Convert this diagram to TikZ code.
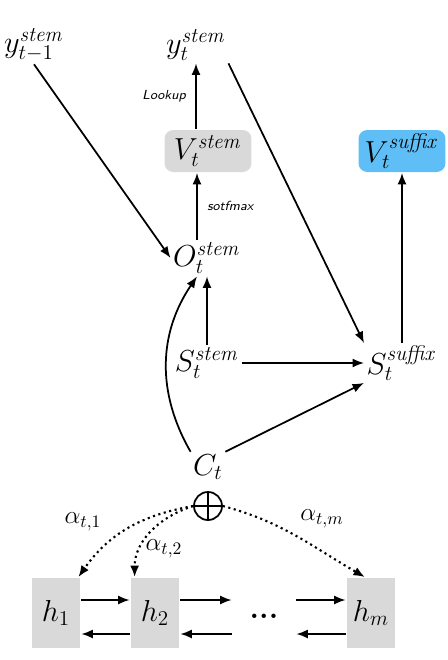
\documentclass[tikz,border=0pt]{standalone}
\usetikzlibrary{arrows.meta,positioning}
\definecolor{sufblue}{RGB}{95,190,245}

\begin{document}
\begin{tikzpicture}[x=0.02cm,y=0.02cm,>={Latex[length=2.3mm,width=1.8mm]},line width=1pt,
 var/.style={inner sep=1pt,font=\LARGE},
 vbox/.style={rounded corners=5pt,minimum width=1.74cm,minimum height=0.84cm,inner sep=0pt,font=\LARGE},
 hbox/.style={fill=gray!30,minimum width=0.98cm,minimum height=1.4cm,inner sep=0pt,font=\LARGE},
 lb/.style={font=\fontsize{7.5}{8}\selectfont\sffamily\itshape},
 att/.style={->,dotted,line width=1.2pt}]
\useasboundingbox (0,0) rectangle (447,-660);
% outputs
\node[var] (ytm1) at (34,-45) {$y_{t-1}^{\mathit{stem}}$};
\node[var] (yt) at (196,-45) {$y_{t}^{\mathit{stem}}$};
\node[vbox,fill=gray!30] (vstem) at (208,-151) {$V_{t}^{\mathit{stem}}$};
\node[vbox,fill=sufblue] (vsuf) at (402,-151) {$V_{t}^{\mathit{suffix}}$};
% states
\node[var] (ostem) at (207,-258) {$O_{t}^{\mathit{stem}}$};
\node[var] (sstem) at (207,-363) {$S_{t}^{\mathit{stem}}$};
\node[var] (ssuf) at (402,-363) {$S_{t}^{\mathit{suffix}}$};
\node[var] (ct) at (208,-467) {$C_{t}$};
\node[draw,circle,minimum size=0.56cm,inner sep=0pt] (plus) at (208,-506) {};
\draw[line width=0.8pt] (plus.north)--(plus.south) (plus.west)--(plus.east);
% encoder
\node[hbox] (h1) at (56,-613) {$h_1$};
\node[hbox] (h2) at (155,-613) {$h_2$};
\node[minimum width=1.26cm,minimum height=1.4cm,inner sep=0pt,font=\LARGE\bfseries] (dots) at (264,-613) {\raisebox{-6pt}{...}};
\node[hbox] (hm) at (371,-613) {$h_m$};
\node[font=\Large] (a1) at (83,-522) {$\alpha_{t,1}$};
\node[font=\Large] (a2) at (164,-549) {$\alpha_{t,2}$};
\node[font=\Large] (am) at (322,-519) {$\alpha_{t,m}$};
% connectors
\draw[->] (ytm1.south) -- (ostem.west);
\draw[->] (yt.south east) -- (ssuf.north west);
\draw[->] (yt.south |- vstem.north) -- node[lb,left=2pt] {Lookup} (yt.south);
\draw[->] ([xshift=-0.2cm]ostem.north) -- node[lb,right=2pt] {sotfmax} ([xshift=-0.2cm]ostem.north |- vstem.south);
\draw[->] (sstem.north) -- (sstem.north |- ostem.south);
\draw[->] (sstem.east) -- (ssuf.west);
\draw[->] (ssuf.north) -- (vsuf.south);
\draw[->] (ct.north west) to[bend left=32] ([xshift=-0.2cm]ostem.south);
\draw[->] (ct.north east) -- (ssuf.south west);
\draw[att] (plus.west) to[out=190,in=55] ([xshift=-0.06cm]h1.north east);
\draw[att] (plus.west) to[out=198,in=90] ([xshift=0.1cm]h2.north west);
\draw[att] (plus.east) to[out=-15,in=150] ([xshift=-0.12cm]hm.north);
\draw[->] ([yshift=0.26cm]h1.east) -- ([yshift=0.26cm]h2.west);
\draw[->] ([yshift=-0.42cm]h2.west) -- ([yshift=-0.42cm]h1.east);
\draw[->] ([yshift=0.26cm]h2.east) -- ([yshift=0.26cm]dots.west);
\draw[->] ([yshift=-0.42cm]dots.west) -- ([yshift=-0.42cm]h2.east);
\draw[->] ([yshift=0.26cm]dots.east) -- ([yshift=0.26cm]hm.west);
\draw[->] ([yshift=-0.42cm]hm.west) -- ([yshift=-0.42cm]dots.east);
\end{tikzpicture}
\end{document}
